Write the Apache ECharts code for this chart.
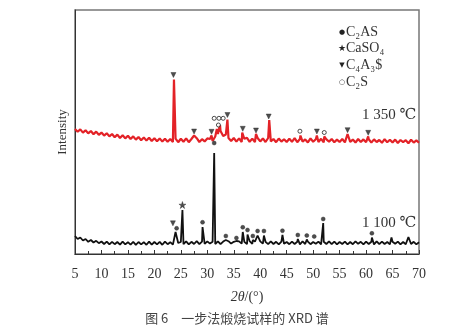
<!DOCTYPE html>
<html>
<head>
<meta charset="UTF-8">
<title>XRD</title>
<script src="https://cdn.jsdelivr.net/npm/echarts@6/dist/echarts.min.js"></script>
</head>
<body style="margin:0;background:#fff;">
<div id="main" style="width:474px;height:327px;"></div>
<script>
// 2θ ticks
var xTicks = [5, 10, 15, 20, 25, 30, 35, 40, 45, 50, 55, 60, 65, 70];
var step = 0.5; // baseline sample spacing, starting at 5°

// background readings (every 0.5° from 5° to 70°)
var base1100 = [
  180,150,165,135,150,122,140,115,132,108,125,
  100,124,96,122,98,120,94,124,96,118,
  94,122,92,120,96,118,92,124,94,120,
  96,122,92,124,98,118,94,126,110,120,
  98,126,96,122,100,128,98,124,102,126,
  104,122,100,126,98,124,100,128,104,122,
  100,126,104,122,98,128,102,124,100,126,
  104,122,98,126,100,122,96,124,102,120,
  98,124,100,122,96,126,100,124,98,120,
  102,124,96,122,100,126,98,124,96,120,
  100,124,96,120,98,126,102,122,96,124,
  100,122,96,126,98,124,100,120,96,122,
  102,124,96,120,98,126,100,122,96,118
];
var base1350 = [
  1250,1222,1246,1214,1238,1206,1230,1198,1224,1192,1214,
  1184,1208,1176,1200,1168,1194,1160,1188,1156,1182,
  1150,1176,1144,1170,1138,1166,1134,1162,1130,1158,
  1128,1156,1124,1152,1122,1150,1120,1154,1118,1152,
  1122,1156,1118,1150,1124,1158,1120,1148,1126,1156,
  1150,1130,1175,1200,1230,1180,1195,1160,1130,1160,
  1124,1156,1120,1152,1162,1122,1154,1118,1160,1126,
  1156,1120,1160,1126,1150,1118,1154,1124,1148,1120,
  1152,1122,1158,1118,1150,1124,1146,1116,1156,1122,
  1148,1120,1152,1116,1146,1124,1150,1118,1144,1120,
  1150,1116,1152,1122,1144,1114,1150,1120,1146,1118,
  1148,1114,1146,1120,1140,1112,1148,1118,1142,1114,
  1144,1110,1140,1118,1138,1108,1142,1114,1136,1112
];

// diffraction peaks [2θ, apex intensity]
var peaks1100 = [
  [24.0,220],[25.3,440],[29.1,270],[31.3,1010],[33.5,140],[35.5,130],
  [36.7,220],[37.6,195],[38.6,140],[39.5,185],[40.7,185],[44.2,190],
  [47.1,150],[48.8,145],[50.2,135],[51.9,310],[61.1,165],[64.8,165],[68.0,170]
];
var peaks1350 = [
  [23.7,1745],[27.5,1185],[30.8,1185],[31.8,1250],[32.4,1290],[33.8,1345],
  [36.6,1215],[39.2,1200],[41.7,1340],[47.6,1185],[50.7,1185],[52.1,1175],
  [56.5,1200],[60.4,1175]
];

// phase markers [2θ, intensity]
var markC2AS = [
  [24.2,257],[29.1,317],[31.3,1110],[33.5,180],[35.5,160],[36.7,267],
  [37.6,240],[38.6,180],[39.5,230],[40.7,230],[44.2,233],[47.1,190],
  [48.8,185],[50.2,175],[51.9,350],[61.1,207]
];
var markCaSO4 = [[25.3,490]];
var markC4A3S = [
  [23.5,307],[23.6,1790],[27.5,1225],[30.8,1222],[33.8,1390],[36.7,1252],
  [39.2,1235],[41.6,1375],[50.7,1225],[56.5,1238],[60.4,1212]
];
var markC2S = [[31.3,1357],[32.2,1357],[33.0,1357],[32.1,1290],[47.5,1228],[52.1,1215]];

// phase key
var phaseNames = ['C₂AS', 'CaSO₄', 'C₄A₃$', 'C₂S'];
var phaseGlyphs = ['●', '★', '▼', '○'];

function buildCurve(base, peaks) {
  var pts = [];
  base.forEach(function (v, i) {
    var x = 5 + i * step;
    var hit = peaks.some(function (p) { return Math.abs(p[0] - x) < 0.05; });
    if (!hit) pts.push([x, v]);
  });
  peaks.forEach(function (p) { pts.push([p[0], p[1]]); });
  pts.sort(function (a, b) { return a[0] - b[0]; });
  return pts;
}

var serif = '"Liberation Serif", "DejaVu Serif", serif';
var star = 'path://M5,0L6.2,3.6L10,3.6L6.9,5.8L8.1,9.5L5,7.2L1.9,9.5L3.1,5.8L0,3.6L3.8,3.6Z';
var downTri = 'path://M0,0L10,0L5,9Z';

function markerSeries(name, data, symbol, size) {
  return {
    name: name, type: 'scatter', data: data, symbol: symbol, symbolSize: size,
    itemStyle: { color: '#222', borderColor: '#222', borderWidth: 0.5 }, z: 5
  };
}

// key drawn as text lines, top right
var keyGraphics = [];
var glyphSize = [7, 9, 7, 7];
phaseNames.forEach(function (n, i) {
  var cy = 32 + i * 16.7;
  keyGraphics.push({ type: 'text', x: 342, y: cy, style: {
    text: phaseGlyphs[i], font: glyphSize[i] + 'px "DejaVu Sans", sans-serif', fill: '#222',
    align: 'center', verticalAlign: 'middle' } });
  keyGraphics.push({ type: 'text', x: 346, y: cy, style: {
    text: n, font: '14px ' + serif, fill: '#333', align: 'left', verticalAlign: 'middle' } });
});

var myChart = echarts.init(document.getElementById('main'));
var option = {
  animation: false,
  backgroundColor: '#fff',
  grid: { left: 75, right: 55, top: 10, bottom: 73, show: true, borderColor: '#777', borderWidth: 1.5 },
  xAxis: {
    type: 'value', min: xTicks[0], max: xTicks[xTicks.length - 1], interval: 5,
    name: '{i|2θ}/(°)', nameLocation: 'middle', nameGap: 36,
    nameTextStyle: {
      fontFamily: serif, fontSize: 14, color: '#333',
      rich: { i: { fontFamily: serif, fontSize: 14, fontStyle: 'italic', color: '#333' } }
    },
    axisLine: { lineStyle: { color: '#333', width: 1 } },
    axisTick: { inside: true, length: 4, lineStyle: { color: '#333' } },
    minorTick: { show: true, splitNumber: 2, length: 3, lineStyle: { color: '#333' } },
    axisLabel: { fontFamily: serif, fontSize: 14, color: '#333', margin: 13 },
    splitLine: { show: false }
  },
  yAxis: {
    type: 'value', min: 0, max: 2440,
    name: 'Intensity', nameLocation: 'middle', nameGap: 6, nameRotate: 90,
    nameTextStyle: { fontFamily: serif, fontSize: 13, color: '#333' },
    axisLine: { show: true, lineStyle: { color: '#333' } },
    axisTick: { show: false }, axisLabel: { show: false }, splitLine: { show: false }
  },
  graphic: keyGraphics.concat([
    { type: 'text', left: 362, top: 108, style: { text: '1 350 ℃', font: '15px ' + serif, fill: '#333' } },
    { type: 'text', left: 362, top: 216, style: { text: '1 100 ℃', font: '15px ' + serif, fill: '#333' } },
    { type: 'text', left: 'center', top: 312, style: {
        text: '图 6　一步法煅烧试样的 XRD 谱',
        font: '13px "Noto Sans CJK SC", sans-serif', fill: '#444' } }
  ]),
  series: [
    { name: '1 100 ℃', type: 'line', data: buildCurve(base1100, peaks1100), showSymbol: false,
      lineStyle: { color: '#111', width: 1.8 }, z: 2 },
    { name: '1 350 ℃', type: 'line', data: buildCurve(base1350, peaks1350), showSymbol: false,
      lineStyle: { color: '#e32227', width: 2.2 }, z: 3 },
    markerSeries(phaseNames[0], markC2AS, 'circle', 4),
    markerSeries(phaseNames[1], markCaSO4, star, 7),
    markerSeries(phaseNames[2], markC4A3S, downTri, 5),
    {
      name: phaseNames[3], type: 'scatter', data: markC2S, symbol: 'circle', symbolSize: 4,
      itemStyle: { color: '#fff', borderColor: '#222', borderWidth: 1 }, z: 5
    }
  ]
};
myChart.setOption(option);
</script>
</body>
</html>
